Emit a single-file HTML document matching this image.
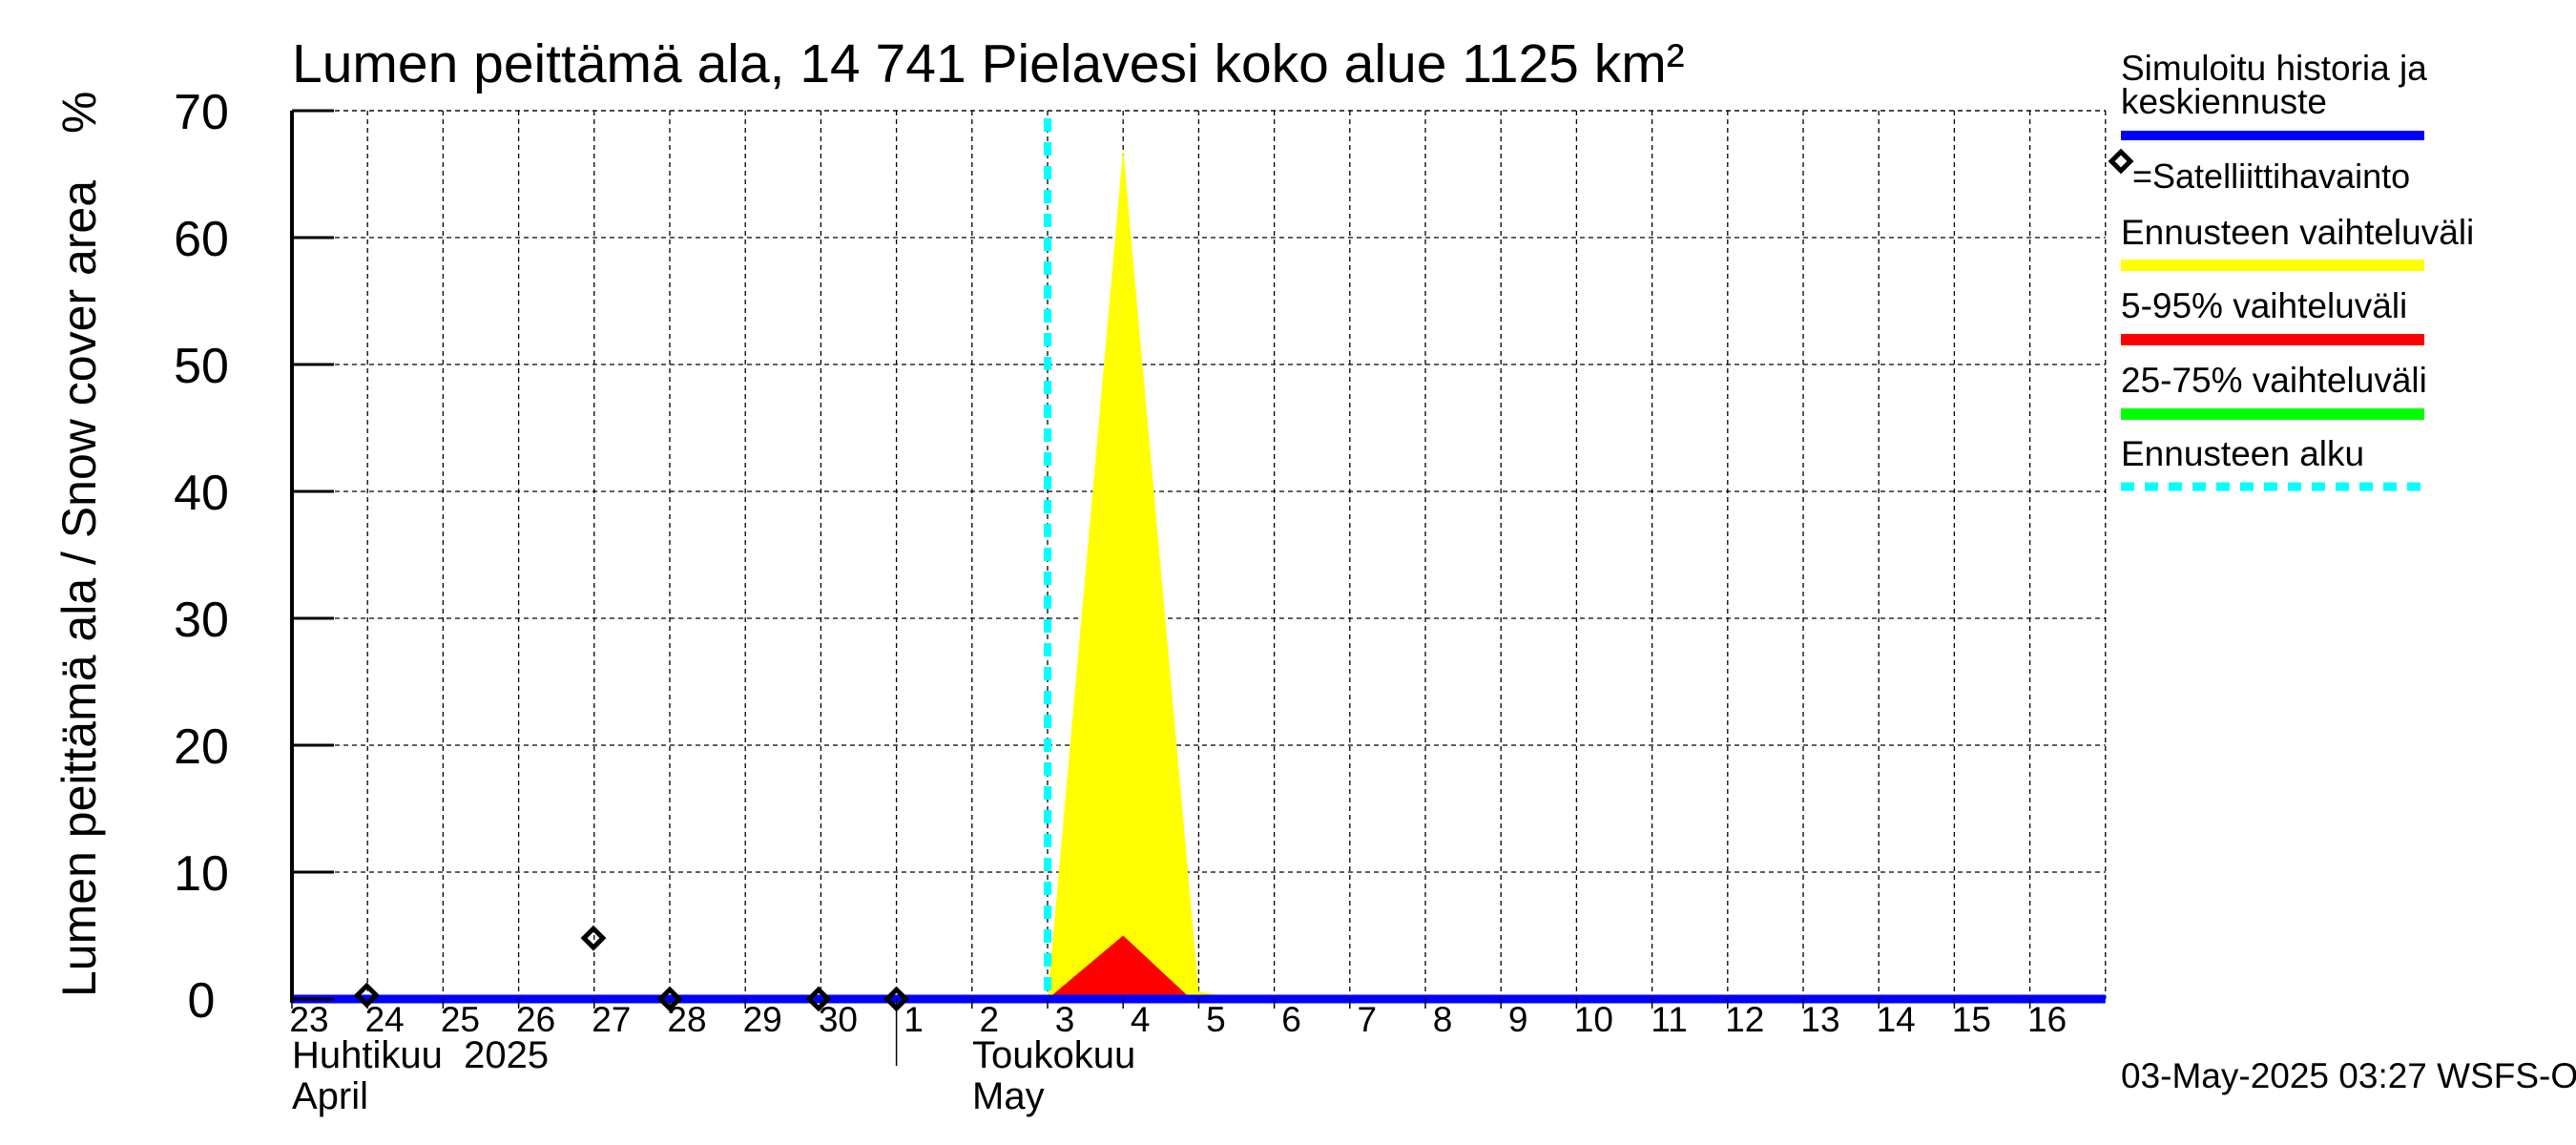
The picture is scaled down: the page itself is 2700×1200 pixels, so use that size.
<!DOCTYPE html>
<html><head><meta charset="utf-8"><style>
html,body{margin:0;padding:0;background:#fff}
svg{display:block;font-family:"Liberation Sans",sans-serif}
</style></head><body>
<svg id="chart" width="2700" height="1200" viewBox="0 0 2700 1200" xmlns="http://www.w3.org/2000/svg">
<rect width="2700" height="1200" fill="#fff"/>
<text x="306" y="86" font-size="57">Lumen peittämä ala, 14 741 Pielavesi koko alue 1125 km²</text>
<text transform="translate(100,1045) rotate(-90)" font-size="50">Lumen peittämä ala / Snow cover area</text>
<text transform="translate(100,140) rotate(-90)" font-size="50">%</text>
<g id="grid"></g><g id="series"></g><g id="axes"></g>
<g font-size="37">
<text x="2223" y="84">Simuloitu historia ja</text>
<text x="2223" y="119">keskiennuste</text>
<rect x="2223" y="137" width="318" height="10" fill="#0000ff"/>
<rect x="2216" y="162" width="14" height="14" fill="none" stroke="#000" stroke-width="5" transform="rotate(45 2223 169)"/>
<text x="2235" y="197" font-size="36">=Satelliittihavainto</text>
<text x="2223" y="256">Ennusteen vaihteluväli</text>
<rect x="2223" y="272" width="318" height="12" fill="#ffff00"/>
<text x="2223" y="333">5-95% vaihteluväli</text>
<rect x="2223" y="350" width="318" height="12" fill="#ff0000"/>
<text x="2223" y="411">25-75% vaihteluväli</text>
<rect x="2223" y="428" width="318" height="12" fill="#00ff00"/>
<text x="2223" y="488">Ennusteen alku</text>
<line x1="2223" y1="510" x2="2541" y2="510" stroke="#00ffff" stroke-width="9" stroke-dasharray="14,11"/>
</g>
<text x="2223" y="1140" font-size="37">03-May-2025 03:27 WSFS-O</text>
</svg>
<script>
const dayLabels=["23","24","25","26","27","28","29","30","1","2","3","4","5","6","7","8","9","10","11","12","13","14","15","16"];
const yTicks=[0,10,20,30,40,50,60,70];
const yellowDays=[10,11,12,12.6];
const yellowVals=[0,67,0.6,0];
const redDays=[10,11,11.9];
const redVals=[0,5,0];
const obsDays=[0.99,3.99,5.0,6.97,8.0];
const obsVals=[0.3,4.8,0,0,0];
const historyDays=[0,24];
const historyVals=[0,0];
const forecastStart=10;

const X0=306,DW=79.2,Y0=1047,YT=116,YMAX=70;
const ND=dayLabels.length;
const XR=X0+ND*DW;
const x=d=>X0+d*DW;
const y=v=>Y0-(v/YMAX)*(Y0-YT);
const NS="http://www.w3.org/2000/svg";
function mk(tag,attrs,parent){const e=document.createElementNS(NS,tag);for(const k in attrs)e.setAttribute(k,attrs[k]);parent.appendChild(e);return e;}
const grid=document.getElementById('grid'),series=document.getElementById('series'),axes=document.getElementById('axes');
for(let i=1;i<=ND;i++){
  const l=mk('line',{x1:x(i),y1:YT,x2:x(i),y2:Y0,stroke:'#000','stroke-width':1.3,'stroke-dasharray':'5,4'},grid);
  
  
}
yTicks.forEach(v=>{
  if(v===0)return;
  const l=mk('line',{x1:X0,y1:y(v),x2:XR,y2:y(v),stroke:'#000','stroke-width':1.3,'stroke-dasharray':'5,4'},grid);
  
  
});
let pts=yellowDays.map((d,i)=>x(d)+','+y(yellowVals[i])).join(' ');
const py=mk('polygon',{points:pts,fill:'#ffff00'},series);


pts=redDays.map((d,i)=>x(d)+','+y(redVals[i])).join(' ');
const pr=mk('polygon',{points:pts,fill:'#ff0000'},series);


const fs=mk('line',{x1:x(forecastStart),y1:YT+8,x2:x(forecastStart),y2:Y0,stroke:'#00ffff','stroke-width':8,'stroke-dasharray':'14,11'},series);


pts=historyDays.map((d,i)=>x(d)+','+y(historyVals[i])).join(' ');
const hl=mk('polyline',{points:pts,fill:'none',stroke:'#0000ff','stroke-width':9},series);


obsDays.forEach((d,i)=>{
  const cx=x(d),cy=y(obsVals[i]);
  const r=mk('rect',{x:cx-7,y:cy-7,width:14,height:14,fill:'none',stroke:'#000','stroke-width':5,transform:`rotate(45 ${cx} ${cy})`},series);
  
  
});
// axes
const ya=mk('line',{x1:X0,y1:YT,x2:X0,y2:Y0+4,stroke:'#000','stroke-width':4},axes);


const tb=mk('line',{x1:X0,y1:YT,x2:XR,y2:YT,stroke:'#000','stroke-width':1.3,'stroke-dasharray':'5,4'},axes);


yTicks.forEach(v=>{
  const t=mk('line',{x1:X0,y1:y(v),x2:X0+44,y2:y(v),stroke:'#000','stroke-width':3},axes);
  
  
  const tx=mk('text',{x:X0-95,y:y(v)+19,'font-size':52,'text-anchor':'middle'},axes);
  
  
  tx.textContent=v;
});
dayLabels.forEach((lab,i)=>{
  const t=mk('line',{x1:x(i),y1:Y0,x2:x(i),y2:Y0+10,stroke:'#000','stroke-width':1.5},axes);
  
  
  const tx=mk('text',{x:x(i)+18,y:1081,'font-size':37,'text-anchor':'middle'},axes);
  
  
  tx.textContent=lab;
});
const sep=mk('line',{x1:x(8),y1:Y0,x2:x(8),y2:1117,stroke:'#000','stroke-width':1.5},axes);


[["Huhtikuu  2025",X0,1119],["April",X0,1162],["Toukokuu",1019,1119],["May",1019,1162]].forEach(a=>{
  const tx=mk('text',{x:a[1],y:a[2],'font-size':40,'xml:space':'preserve'},axes);
  
  
  tx.style.whiteSpace='pre';
  tx.textContent=a[0];
});
</script>
</body></html>
